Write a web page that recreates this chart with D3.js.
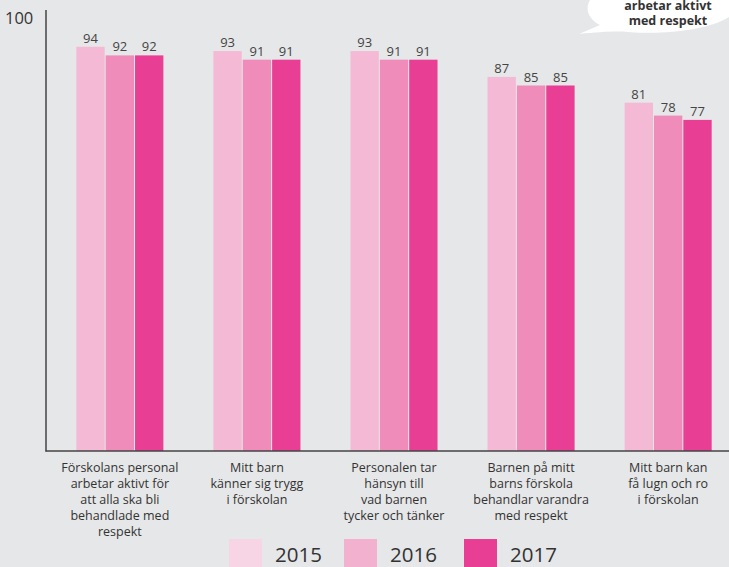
<!DOCTYPE html>
<html>
<head>
<meta charset="utf-8">
<script src="https://cdn.jsdelivr.net/npm/d3@7"></script>
<style>
  body { margin: 0; background: #e6e7e8; }
  svg { display: block; font-family: "Open Sans", sans-serif; }
</style>
</head>
<body>
<div id="chart"></div>
<script>
var categories = [
    ["Förskolans personal", "arbetar aktivt för", "att alla ska bli", "behandlade med", "respekt"],
    ["Mitt barn", "känner sig trygg", "i förskolan"],
    ["Personalen tar", "hänsyn till", "vad barnen", "tycker och tänker"],
    ["Barnen på mitt", "barns förskola", "behandlar varandra", "med respekt"],
    ["Mitt barn kan", "få lugn och ro", "i förskolan"]
];
var years = ["2015", "2016", "2017"];
var v2015 = [94, 93, 93, 87, 81];
var v2016 = [92, 91, 91, 85, 78];
var v2017 = [92, 91, 91, 85, 77];
var barColors = ["#f4b9d5", "#ef8cba", "#e83e93"];
var legendColors = ["#f8d5e4", "#f3b1d0", "#e83e93"];

var W = 729, H = 567;
var svg = d3.select("#chart").append("svg").attr("width", W).attr("height", H);

var series = [v2015, v2016, v2017];

var x0 = d3.scaleBand().domain(d3.range(categories.length)).range([52, 736]).paddingInner(0.35).paddingOuter(0.17);
var x1 = d3.scaleBand().domain(d3.range(years.length)).range([0, x0.bandwidth()]).padding(0.035);
var y = d3.scaleLinear().domain([0, 100]).range([451, 21]);

// speech bubble, cut off at the top right
svg.append("path")
    .attr("d", "M590,0 C584,10 590,20 600,25 L579,34 C600,32 615,31 628,32 C665,35 708,30 729,17 L729,0 Z")
    .attr("fill", "#ffffff");
svg.append("text").attr("x", 668).attr("y", 10).attr("text-anchor", "middle")
    .attr("font-size", 12.5).attr("font-weight", "bold").attr("fill", "#333")
    .text("arbetar aktivt");
svg.append("text").attr("x", 668).attr("y", 25).attr("text-anchor", "middle")
    .attr("font-size", 12.5).attr("font-weight", "bold").attr("fill", "#333")
    .text("med respekt");

var groups = svg.selectAll("g.grp")
    .data(categories)
    .enter().append("g")
    .attr("class", "grp")
    .attr("transform", function(d, i) { return "translate(" + x0(i) + ",0)"; });

groups.each(function(c, i) {
    var g = d3.select(this);
    series.forEach(function(s, k) {
        g.append("rect")
            .attr("x", x1(k))
            .attr("y", y(s[i]))
            .attr("width", x1.bandwidth())
            .attr("height", y(0) - y(s[i]))
            .attr("fill", barColors[k]);
        g.append("text")
            .attr("x", x1(k) + x1.bandwidth() / 2)
            .attr("y", y(s[i]) - 4)
            .attr("text-anchor", "middle")
            .attr("font-size", 13)
            .attr("fill", "#444")
            .text(s[i]);
    });
    var t = g.append("text")
        .attr("text-anchor", "middle")
        .attr("font-size", 12.5)
        .attr("fill", "#333");
    c.forEach(function(line, j) {
        t.append("tspan")
            .attr("x", x0.bandwidth() / 2)
            .attr("y", 472 + j * 16)
            .text(line);
    });
});

// axes
svg.append("line").attr("x1", 46).attr("x2", 46).attr("y1", 10).attr("y2", 451.5)
    .attr("stroke", "#444").attr("stroke-width", 1.5);
svg.append("line").attr("x1", 45.5).attr("x2", W).attr("y1", 451).attr("y2", 451)
    .attr("stroke", "#444").attr("stroke-width", 1.5);
svg.append("text").attr("x", 5).attr("y", 24).attr("font-size", 16.5).attr("fill", "#333").text("100");

// legend
var lx = [229, 344, 464];
var legend = svg.selectAll("g.leg")
    .data(years)
    .enter().append("g")
    .attr("class", "leg")
    .attr("transform", function(d, i) { return "translate(" + lx[i] + ",539)"; });
legend.append("rect").attr("width", 33).attr("height", 33)
    .attr("fill", function(d, i) { return legendColors[i]; });
legend.append("text").attr("x", 46).attr("y", 23).attr("font-size", 20.5).attr("fill", "#333")
    .text(function(d) { return d; });
</script>
</body>
</html>
